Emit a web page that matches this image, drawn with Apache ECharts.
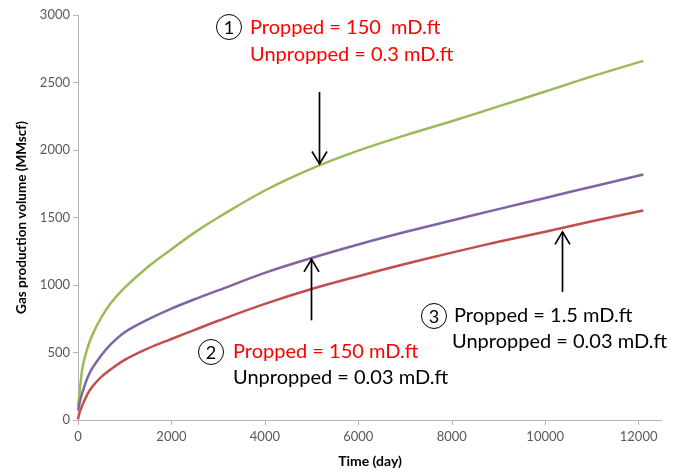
<!DOCTYPE html>
<html>
<head>
<meta charset="utf-8">
<title>Gas production volume</title>
<script src="https://cdn.jsdelivr.net/npm/echarts@6/dist/echarts.min.js"></script>
<style>
  html, body { margin: 0; padding: 0; background: #ffffff; }
  #chart { width: 674px; height: 473px; }
</style>
</head>
<body>
<div id="chart"></div>
<script>
// Time axis (days) shared by all three cases
const days = [0, 25, 50, 100, 200, 300, 500, 700, 1000, 1500, 2000, 2500, 3000, 4000, 5000, 6000, 7000, 8000, 9000, 10000, 11000, 12100];

// Cumulative gas production (MMscf)
// Case 1: propped 150 mD.ft, unpropped 0.3 mD.ft
const case1 = [100, 170, 260, 395, 530, 625, 760, 865, 980, 1135, 1265, 1390, 1500, 1700, 1862, 1995, 2108, 2213, 2323, 2433, 2545, 2660];
// Case 2: propped 150 mD.ft, unpropped 0.03 mD.ft
const case2 = [70, 110, 150, 210, 310, 380, 480, 560, 650, 745, 825, 895, 960, 1090, 1200, 1300, 1392, 1478, 1562, 1645, 1728, 1818];
// Case 3: propped 1.5 mD.ft, unpropped 0.03 mD.ft
const case3 = [5, 45, 70, 115, 190, 245, 320, 375, 445, 530, 600, 668, 735, 860, 970, 1065, 1155, 1240, 1320, 1395, 1472, 1552];

const xTicks = [0, 2000, 4000, 6000, 8000, 10000, 12000];
const yTicks = [0, 500, 1000, 1500, 2000, 2500, 3000];

const FONT = 'Lato, "Open Sans", sans-serif';
const GREEN = '#9BBB59', PURPLE = '#8064A2', RED = '#C0504D';
const AXIS_GREY = '#B5B5B5', LABEL_GREY = '#595959';

const chart = echarts.init(document.getElementById('chart'));

function pairs(vals) { return days.map((d, i) => [d, vals[i]]); }

// linear lookup of a series value at a given day
function valueAt(vals, day) {
  for (let i = 1; i < days.length; i++) {
    if (day <= days[i]) {
      const f = (day - days[i - 1]) / (days[i] - days[i - 1]);
      return vals[i - 1] + f * (vals[i] - vals[i - 1]);
    }
  }
  return vals[vals.length - 1];
}

function lineSeries(name, vals, color) {
  return {
    name, type: 'line', data: pairs(vals),
    showSymbol: false, smooth: 0.35,
    lineStyle: { color, width: 2.5 },
    itemStyle: { color },
    z: 3
  };
}

const plain = v => String(v);

chart.setOption({
  animation: false,
  backgroundColor: '#ffffff',
  grid: { left: 78, right: 12, top: 15, bottom: 52 },
  xAxis: {
    type: 'value', min: 0, max: 12500,
    name: 'Time (day)', nameLocation: 'middle', nameGap: 34,
    nameTextStyle: { fontFamily: FONT, fontSize: 14, fontWeight: 'bold', color: '#000' },
    axisLine: { lineStyle: { color: AXIS_GREY, width: 1 } },
    axisTick: { show: true, length: 5, customValues: xTicks, lineStyle: { color: AXIS_GREY } },
    axisLabel: { customValues: xTicks, formatter: plain, margin: 10, color: LABEL_GREY, fontFamily: FONT, fontSize: 13 },
    splitLine: { show: false }
  },
  yAxis: {
    type: 'value', min: 0, max: 3000, interval: 500,
    name: 'Gas production volume (MMscf)', nameLocation: 'middle', nameGap: 49,
    nameTextStyle: { fontFamily: FONT, fontSize: 13.5, fontWeight: 'bold', color: '#000' },
    axisLine: { show: true, lineStyle: { color: AXIS_GREY, width: 1 } },
    axisTick: { show: true, length: 5, customValues: yTicks, lineStyle: { color: AXIS_GREY } },
    axisLabel: { customValues: yTicks, formatter: plain, margin: 8, color: LABEL_GREY, fontFamily: FONT, fontSize: 13 },
    splitLine: { show: false }
  },
  series: [
    lineSeries('Case 1', case1, GREEN),
    lineSeries('Case 2', case2, PURPLE),
    lineSeries('Case 3', case3, RED)
  ]
});

// Annotation arrows: the tip points at a curve at the given day (gap px short of it),
// the shaft runs len px away from the curve (dir = +1 below the curve, -1 above)
function arrow(vals, day, dir, len, gap) {
  const p = chart.convertToPixel({ gridIndex: 0 }, [day, valueAt(vals, day)]);
  const x = Math.round(p[0]) + 0.5;
  const ty = p[1] + dir * gap;
  const tailY = ty + dir * len;
  const hw = 7.5, hh = 12.5;
  const style = { stroke: '#000', lineWidth: 1.7, fill: null };
  return [
    { type: 'line', shape: { x1: x, y1: tailY, x2: x, y2: ty }, style, z: 10 },
    { type: 'polyline', shape: { points: [[x - hw, ty + dir * hh], [x, ty], [x + hw, ty + dir * hh]] }, style, z: 10 }
  ];
}

function circledNumber(cx, cy, n) {
  return [
    { type: 'circle', shape: { cx, cy, r: 12.5 }, style: { stroke: '#000', lineWidth: 1, fill: '#fff' }, z: 10 },
    { type: 'text', x: cx, y: cy + 1, style: { text: String(n), fontFamily: FONT, fontSize: 18, fill: '#000', align: 'center', verticalAlign: 'middle' }, z: 11 }
  ];
}

function note(x, y, text, color) {
  return { type: 'text', x, y, style: { text, fontFamily: FONT, fontSize: 20, fill: color, align: 'left', verticalAlign: 'middle' }, z: 10 };
}

const elements = [].concat(
  arrow(case1, 5149, -1, 72, 2),
  arrow(case2, 4978, 1, 61, 1),
  arrow(case3, 10361, 1, 60, 4),
  circledNumber(229, 27, 1),
  [note(250, 28, 'Propped = 150  mD.ft', '#FF0000'), note(250, 55, 'Unpropped = 0.3 mD.ft', '#FF0000')],
  circledNumber(211, 352, 2),
  [note(233, 352, 'Propped = 150 mD.ft', '#FF0000'), note(233, 378, 'Unpropped = 0.03 mD.ft', '#000000')],
  circledNumber(434, 316, 3),
  [note(454, 316, 'Propped = 1.5 mD.ft', '#000000'), note(452, 342, 'Unpropped = 0.03 mD.ft', '#000000')]
);

chart.setOption({ graphic: { elements } });
</script>
</body>
</html>
